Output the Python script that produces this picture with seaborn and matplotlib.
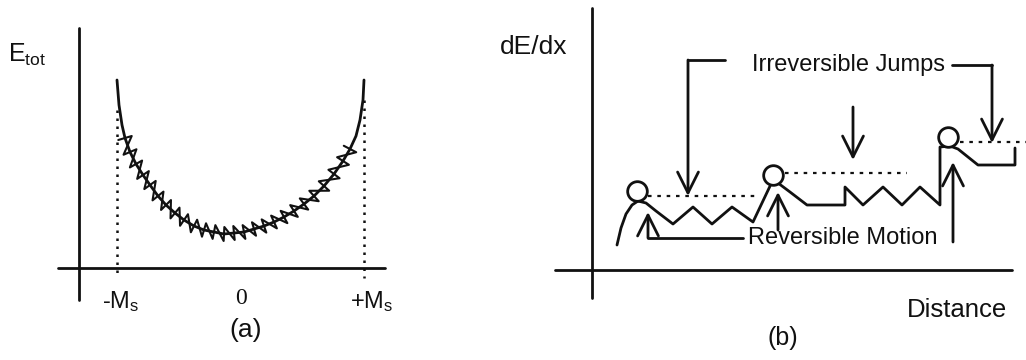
import numpy as np
import matplotlib
matplotlib.use("Agg")
import matplotlib.pyplot as plt
import seaborn as sns

sns.set_theme(style="white")
plt.rcParams["font.family"] = ["Liberation Sans", "DejaVu Sans"]
plt.rcParams["mathtext.fontset"] = "custom"
plt.rcParams["mathtext.rm"] = "Liberation Sans"

# ---------------- panel (a): total energy vs magnetisation ----------------
energy_x = [117, 119, 122, 125, 130, 136, 143, 150, 158, 166, 175, 184, 194, 204,
            214, 224, 234, 244, 254, 264, 274, 284, 294, 304, 314, 324, 334, 343,
            350, 356, 360, 363, 364]
energy_y = [80, 105, 125, 138, 152, 164, 175, 185, 196, 205, 213, 220, 226, 230,
            232, 234, 233, 232, 229, 226, 222, 217, 211, 204, 196, 186, 174, 161,
            149, 136, 120, 100, 80]
a_tick_labels = [r"-$\mathregular{M_s}$", "0", r"+$\mathregular{M_s}$"]

# ---------------- panel (b): dE/dx profile along the wall path ----------------
profile_x = [617, 621, 626, 632, 638, 646, 656, 673, 693, 712, 732, 753, 771,
             778, 790, 807, 845, 845, 863, 883, 902, 920, 940, 940, 950, 958,
             978, 1015, 1015]
profile_y = [245, 228, 214, 205, 201, 203, 211, 224, 207, 224, 207, 222, 184,
             183, 192, 205, 205, 187, 205, 187, 205, 187, 205, 147, 146, 149,
             165, 165, 148]
pin_x = [637, 773, 948]
pin_y = [191, 175, 137]
level_start = [648, 785, 960]
level_end = [760, 907, 1026]
level_y = [196, 173, 142]

fig = plt.figure(figsize=(10.26, 3.6), dpi=100)
ax = fig.add_axes([0, 0, 1, 1])
ax.set_xlim(0, 1026)
ax.set_ylim(360, 0)
ax.set_axis_off()

black = "#111111"
lw = 2.0

# axes of panel (a)
ax.plot([79, 79], [28, 300], color=black, lw=lw)
ax.plot([58, 385], [268, 268], color=black, lw=lw)
# saturation markers
ax.plot([117, 117], [110, 278], color=black, lw=1.8, ls=(0, (1, 2.2)))
ax.plot([364, 364], [100, 278], color=black, lw=1.8, ls=(0, (1, 2.2)))

# smooth energy curve
sns.lineplot(x=energy_x, y=energy_y, sort=False, estimator=None,
             color=black, lw=lw, ax=ax)

# small Barkhausen teeth riding on the curve
ex = np.array(energy_x, float)
ey = np.array(energy_y, float)
tx, ty = np.gradient(ex), np.gradient(ey)
norm = np.hypot(tx, ty)
nx, ny = -ty / norm, tx / norm
d = 7.0
zx, zy = [], []
for i in range(3, len(ex) - 4):
    zx += [ex[i] + d * nx[i], ex[i] - d * nx[i]]
    zy += [ey[i] + d * ny[i], ey[i] - d * ny[i]]
sns.lineplot(x=zx, y=zy, sort=False, estimator=None, color=black, lw=1.5, ax=ax)

ax.text(8, 55, r"$\mathregular{E_{tot}}$", fontsize=18, va="center", ha="left", color=black)
ax.text(121, 302, a_tick_labels[0], fontsize=17, ha="center", va="center", color=black)
ax.text(241, 299, a_tick_labels[1], fontsize=17, ha="center", va="center",
        color=black, family="Liberation Serif")
ax.text(372, 302, a_tick_labels[2], fontsize=17, ha="center", va="center", color=black)
ax.text(246, 330, "(a)", fontsize=19, ha="center", va="center", color=black)

# axes of panel (b)
ax.plot([592, 592], [8, 298], color=black, lw=lw)
ax.plot([555, 1012], [270, 270], color=black, lw=lw)

sns.lineplot(x=profile_x, y=profile_y, sort=False, estimator=None,
             color=black, lw=lw, ax=ax)
ax.scatter(pin_x, pin_y, s=200, facecolor="white", edgecolor=black, lw=lw, zorder=5)
for xs, xe, yy in zip(level_start, level_end, level_y):
    ax.plot([xs, xe], [yy, yy], color=black, lw=1.6, ls=(0, (1.6, 2.6)))

arrow = dict(arrowstyle="->,head_length=0.6,head_width=0.3", lw=lw, color=black,
             shrinkA=0, shrinkB=0, mutation_scale=25)

# irreversible jumps
ax.plot([725, 688], [60, 60], color=black, lw=lw)
ax.annotate("", xy=(688, 196), xytext=(688, 60), arrowprops=arrow)
ax.annotate("", xy=(853, 160), xytext=(853, 107), arrowprops=arrow)
ax.plot([952, 992], [65, 65], color=black, lw=lw)
ax.annotate("", xy=(992, 143), xytext=(992, 65), arrowprops=arrow)
ax.text(848, 65, "Irreversible Jumps", fontsize=17, ha="center", va="center", color=black)

# reversible motion
ax.plot([743, 648], [238, 238], color=black, lw=lw)
ax.annotate("", xy=(648, 212), xytext=(648, 238), arrowprops=arrow)
ax.annotate("", xy=(778, 192), xytext=(778, 230), arrowprops=arrow)
ax.annotate("", xy=(953, 162), xytext=(953, 242), arrowprops=arrow)
ax.text(843, 238, "Reversible Motion", fontsize=17, ha="center", va="center", color=black)

ax.text(534, 47, "dE/dx", fontsize=19, ha="center", va="center", color=black)
ax.text(957, 310, "Distance", fontsize=18.5, ha="center", va="center", color=black)
ax.text(783, 338, "(b)", fontsize=18, ha="center", va="center", color=black)

fig.savefig("out.png", dpi=100, facecolor="white")
